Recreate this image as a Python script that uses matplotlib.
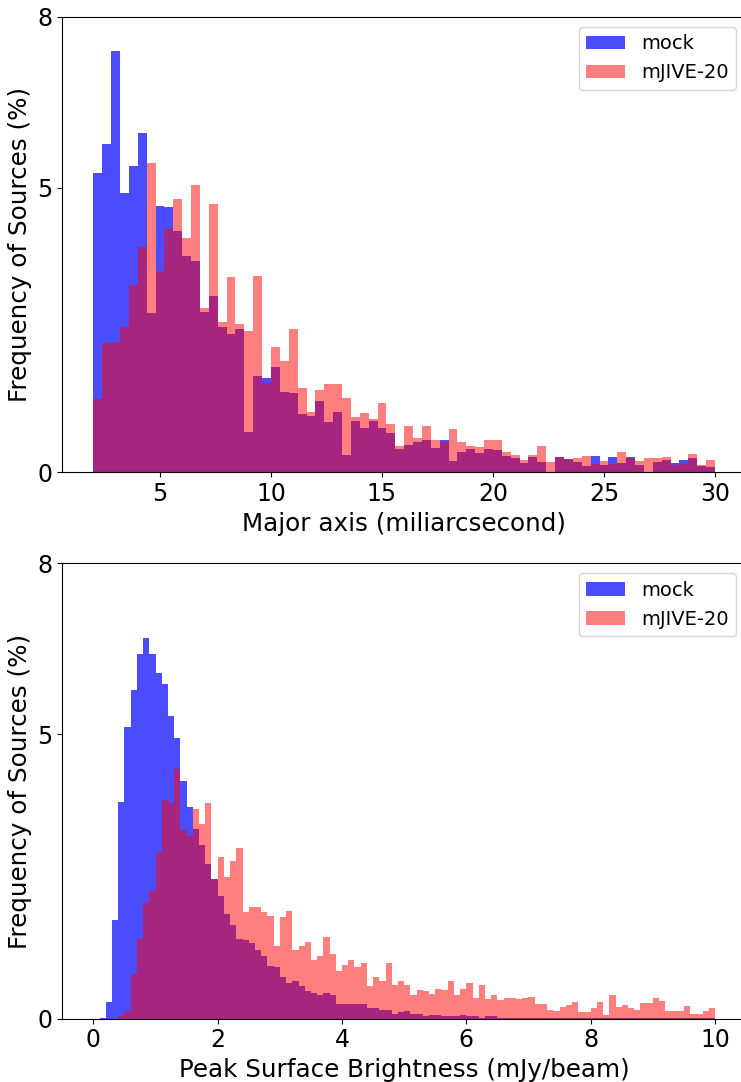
import numpy as np
import matplotlib
matplotlib.use('Agg')
import matplotlib.pyplot as plt

# Percent of sources per bin
major_mock = [5.26, 5.77, 7.40, 4.90, 5.38, 5.96, 2.80, 4.68, 4.66, 4.24,
              3.80, 3.71, 2.82, 3.10, 2.55, 2.43, 2.52, 0.71, 1.69, 1.66,
              1.85, 1.41, 1.39, 1.02, 0.99, 1.25, 0.88, 1.06, 0.30, 0.90,
              0.78, 0.90, 0.78, 0.69, 0.41, 0.48, 0.53, 0.57, 0.43, 0.57,
              0.20, 0.36, 0.41, 0.34, 0.41, 0.40, 0.28, 0.25, 0.16, 0.26,
              0.18, 0.00, 0.26, 0.23, 0.18, 0.11, 0.28, 0.12, 0.26, 0.16,
              0.26, 0.12, 0.00, 0.18, 0.21, 0.16, 0.21, 0.25, 0.11, 0.09]
major_mjive = [1.29, 2.28, 2.29, 2.55, 3.29, 3.96, 5.43, 3.54, 4.27, 4.80,
               4.11, 5.05, 2.89, 4.71, 2.64, 3.43, 2.60, 2.48, 3.45, 1.57,
               2.20, 1.95, 2.52, 1.48, 1.06, 1.45, 1.55, 1.55, 1.31, 0.97,
               1.04, 0.94, 1.22, 0.85, 0.46, 0.81, 0.60, 0.81, 0.57, 0.53,
               0.76, 0.53, 0.46, 0.44, 0.57, 0.57, 0.35, 0.30, 0.21, 0.30,
               0.46, 0.18, 0.26, 0.21, 0.25, 0.28, 0.14, 0.19, 0.14, 0.35,
               0.25, 0.19, 0.25, 0.25, 0.26, 0.12, 0.14, 0.33, 0.12, 0.21]

peak_mock = [0.00, 0.02, 0.30, 1.74, 3.80, 5.13, 5.78, 6.41, 6.69, 6.41,
             6.07, 5.88, 5.32, 4.93, 4.18, 3.72, 3.33, 3.05, 2.72, 2.45,
             2.16, 1.84, 1.65, 1.40, 1.38, 1.33, 1.20, 1.11, 0.93, 0.91,
             0.74, 0.63, 0.67, 0.58, 0.49, 0.46, 0.42, 0.46, 0.42, 0.26,
             0.25, 0.26, 0.26, 0.26, 0.19, 0.19, 0.16, 0.16, 0.09, 0.11,
             0.14, 0.09, 0.09, 0.05, 0.07, 0.07, 0.05, 0.05, 0.05, 0.07,
             0.04, 0.04, 0.02, 0.04, 0.04, 0.02, 0.02, 0.02, 0.02, 0.02,
             0.02, 0.01, 0.01, 0.01, 0.01, 0.01, 0.01, 0.01, 0.01, 0.01,
             0.01, 0.01, 0.01, 0.01, 0.01, 0.01, 0.01, 0.01, 0.01, 0.01,
             0.01, 0.01, 0.01, 0.01, 0.01, 0.01, 0.01, 0.01, 0.01, 0.01]
peak_mjive = [0.00, 0.00, 0.00, 0.00, 0.05, 0.14, 0.78, 1.40, 2.03, 2.24,
              2.91, 3.84, 3.79, 4.39, 3.32, 3.21, 3.68, 3.42, 3.79, 2.44,
              2.84, 2.49, 2.77, 3.00, 1.87, 1.96, 1.97, 1.88, 1.81, 1.27,
              1.78, 1.90, 1.21, 1.27, 1.34, 1.04, 1.11, 1.44, 1.14, 0.83,
              0.95, 1.04, 0.91, 0.98, 0.58, 0.74, 0.67, 0.97, 0.60, 0.67,
              0.60, 0.42, 0.51, 0.49, 0.44, 0.53, 0.51, 0.67, 0.42, 0.53,
              0.62, 0.37, 0.60, 0.35, 0.42, 0.32, 0.37, 0.37, 0.35, 0.37,
              0.39, 0.25, 0.25, 0.15, 0.13, 0.20, 0.24, 0.29, 0.12, 0.12,
              0.19, 0.29, 0.06, 0.42, 0.20, 0.24, 0.19, 0.15, 0.28, 0.28,
              0.36, 0.31, 0.13, 0.13, 0.13, 0.22, 0.08, 0.08, 0.13, 0.19]

major_edges = np.linspace(2, 30, len(major_mock) + 1)
peak_edges = np.linspace(0, 10, len(peak_mock) + 1)

fig = plt.figure(figsize=(7.41, 10.82), dpi=100)
# axes run a little past the right edge, as in the cropped original
ax1 = fig.add_axes([0.0841, 0.5635, 0.9227, 0.4208])
ax2 = fig.add_axes([0.0841, 0.0585, 0.9227, 0.4208])


def draw(ax, edges, mock, mjive, xlabel):
    centers = 0.5 * (edges[:-1] + edges[1:])
    ax.hist(centers, bins=edges, weights=mock, color='blue', alpha=0.7, label='mock')
    ax.hist(centers, bins=edges, weights=mjive, color='red', alpha=0.5, label='mJIVE-20')
    ax.set_ylim(0, 8)
    ax.set_yticks([0, 5, 8])
    ax.set_xlabel(xlabel, fontsize=17.7)
    ax.set_ylabel('Frequency of Sources (%)', fontsize=17.7)
    ax.tick_params(labelsize=17)
    ax.legend(loc='upper right', fontsize=14)


draw(ax1, major_edges, major_mock, major_mjive, 'Major axis (miliarcsecond)')
ax1.set_xlim(0.6, 31.4)
draw(ax2, peak_edges, peak_mock, peak_mjive, 'Peak Surface Brightness (mJy/beam)')
ax2.set_xlim(-0.5, 10.5)

fig.savefig('out.png', dpi=100)
